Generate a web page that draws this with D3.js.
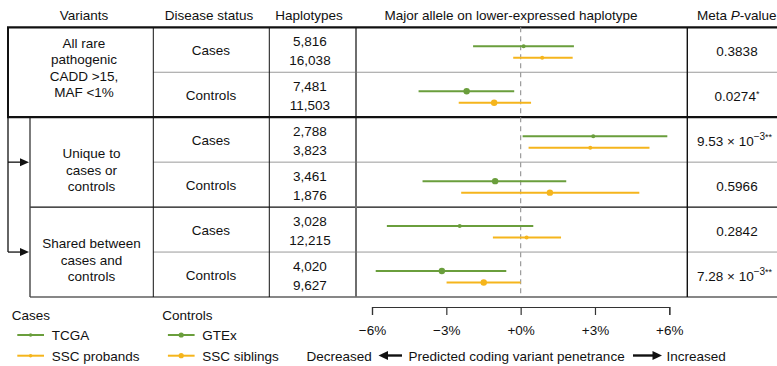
<!DOCTYPE html>
<html>
<head>
<meta charset="utf-8">
<script src="https://cdn.jsdelivr.net/npm/d3@7"></script>
<style>
  html, body { margin: 0; padding: 0; background: #fff; }
  svg { display: block; }
  text { font-family: "Liberation Sans", Arial, Helvetica, sans-serif; font-size: 13.5px; fill: #111; }
</style>
</head>
<body>
<svg id="chart" width="777" height="366"></svg>
<script>
// ---------- data ----------
const rowIds = ["allCases", "allControls", "uniqCases", "uniqControls", "sharedCases", "sharedControls"];
const diseaseStatus = ["Cases", "Controls", "Cases", "Controls", "Cases", "Controls"];
const haplotypesA = ["5,816", "7,481", "2,788", "3,461", "3,028", "4,020"];
const haplotypesB = ["16,038", "11,503", "3,823", "1,876", "12,215", "9,627"];
const variantGroups = [
  ["All rare", "pathogenic", "CADD >15,", "MAF <1%"],
  ["Unique to", "cases or", "controls"],
  ["Shared between", "cases and", "controls"]
];
// green series: TCGA (cases) / GTEx (controls)
const greenEst = [0.12, -2.18, 2.93, -1.03, -2.46, -3.18];
const greenLo  = [-1.92, -4.12, 0.08, -3.96, -5.40, -5.85];
const greenHi  = [2.15, -0.26, 5.92, 1.84, 0.51, -0.58];
// yellow series: SSC probands (cases) / SSC siblings (controls)
const yellowEst = [0.87, -1.07, 2.81, 1.18, 0.24, -1.49];
const yellowLo  = [-0.30, -2.50, 0.32, -2.40, -1.12, -2.99];
const yellowHi  = [2.10, 0.42, 5.20, 4.79, 1.63, 0.00];
const pMain = ["0.3838", "0.0274", "9.53 × 10", "0.5966", "0.2842", "7.28 × 10"];
const pExp  = ["", "", "−3", "", "", "−3"];
const pStars = ["", "*", "**", "", "", "**"];
const tickValues = [-6, -3, 0, 3, 6];
const tickLabels = ["−6%", "−3%", "+0%", "+3%", "+6%"];
const headers = ["Variants", "Disease status", "Haplotypes", "Major allele on lower-expressed haplotype", "Meta "];

const GREEN = "#6a9e3c", YELLOW = "#f5b51c";

// ---------- layout ----------
const svg = d3.select("#chart");
const W = 777;
const tableTop = 27.3, tableBottom = 297;
const colX = { left: 8, inner: 30, c1: 153.3, c2: 269.3, c3: 356, c4: 687.3 };

const y = d3.scaleBand().domain(rowIds).range([tableTop, tableBottom]);
const ySub = d3.scaleOrdinal().domain(["g", "y"]).range([-3.5, 8]);
const x = d3.scaleLinear().domain([-6, 6]).range([372, 669.3]);
const mid = id => y(id) + y.bandwidth() / 2;

// ---------- table lines ----------
const g = svg.append("g");
[1, 3, 5].forEach(i => {
  g.append("line").attr("x1", colX.c1).attr("x2", W).attr("y1", y(rowIds[i])).attr("y2", y(rowIds[i]))
    .attr("stroke", "#9a9a9a").attr("stroke-width", 1);
});
g.append("line").attr("x1", colX.inner).attr("x2", W).attr("y1", y(rowIds[4])).attr("y2", y(rowIds[4]))
  .attr("stroke", "#111").attr("stroke-width", 1.2);
g.append("line").attr("x1", colX.inner).attr("x2", W).attr("y1", tableBottom).attr("y2", tableBottom)
  .attr("stroke", "#111").attr("stroke-width", 1.2);
[colX.c1, colX.c2].forEach(cx => {
  g.append("line").attr("x1", cx).attr("x2", cx).attr("y1", tableTop).attr("y2", tableBottom)
    .attr("stroke", "#111").attr("stroke-width", 1);
});
g.append("line").attr("x1", colX.c3).attr("x2", colX.c3).attr("y1", tableTop).attr("y2", tableBottom)
  .attr("stroke", "#6e6e6e").attr("stroke-width", 2);
g.append("line").attr("x1", colX.c4).attr("x2", colX.c4).attr("y1", tableTop).attr("y2", tableBottom)
  .attr("stroke", "#111").attr("stroke-width", 1.4);
g.append("line").attr("x1", colX.inner).attr("x2", colX.inner).attr("y1", y(rowIds[2])).attr("y2", tableBottom)
  .attr("stroke", "#444").attr("stroke-width", 1.4);
g.append("line").attr("x1", colX.left).attr("x2", colX.left).attr("y1", tableTop).attr("y2", y(rowIds[2]))
  .attr("stroke", "#111").attr("stroke-width", 2);
const arrowY = [y(rowIds[3]), y(rowIds[5])];
g.append("line").attr("x1", colX.left).attr("x2", colX.left).attr("y1", y(rowIds[2])).attr("y2", arrowY[1])
  .attr("stroke", "#111").attr("stroke-width", 1.3);
arrowY.forEach(ay => {
  g.append("line").attr("x1", colX.left).attr("x2", colX.inner - 8).attr("y1", ay).attr("y2", ay)
    .attr("stroke", "#111").attr("stroke-width", 1.3);
  g.append("path").attr("d", `M${colX.inner - 10},${ay - 4}L${colX.inner - 1},${ay}L${colX.inner - 10},${ay + 4}Z`)
    .attr("fill", "#111");
});
[tableTop, y(rowIds[2])].forEach(ly => {
  g.append("line").attr("x1", colX.left - 1).attr("x2", W).attr("y1", ly).attr("y2", ly)
    .attr("stroke", "#111").attr("stroke-width", 2.2);
});

g.append("line").attr("x1", x(0)).attr("x2", x(0)).attr("y1", tableTop).attr("y2", tableBottom)
  .attr("stroke", "#9a9a9a").attr("stroke-width", 1.2).attr("stroke-dasharray", "5,4");

// ---------- headers ----------
const headerX = [84, 209, 309, 511];
headers.slice(0, 4).forEach((h, i) => {
  svg.append("text").attr("x", headerX[i]).attr("y", 19.5).attr("text-anchor", "middle").text(h);
});
const mp = svg.append("text").attr("x", 697).attr("y", 19.5);
mp.append("tspan").text(headers[4]);
mp.append("tspan").attr("font-style", "italic").text("P");
mp.append("tspan").text("-value");

// ---------- variant group labels ----------
const groupSpec = [
  { cx: 84, y0: 47.5 },
  { cx: 91.5, y0: 158 },
  { cx: 91.5, y0: 248 }
];
variantGroups.forEach((lines, gi) => {
  lines.forEach((t, li) => {
    svg.append("text").attr("x", groupSpec[gi].cx).attr("y", groupSpec[gi].y0 + li * 16.5)
      .attr("text-anchor", "middle").text(t);
  });
});

// ---------- disease status & haplotypes ----------
rowIds.forEach((id, i) => {
  svg.append("text").attr("x", 211).attr("y", mid(id) + 5.5).attr("text-anchor", "middle").text(diseaseStatus[i]);
  svg.append("text").attr("x", 310).attr("y", mid(id) - 3.5).attr("text-anchor", "middle").text(haplotypesA[i]);
  svg.append("text").attr("x", 310).attr("y", mid(id) + 15).attr("text-anchor", "middle").text(haplotypesB[i]);
});

// ---------- p-values ----------
rowIds.forEach((id, i) => {
  const sci = pExp[i] !== "";
  const t = svg.append("text").attr("y", mid(id) + 6.5)
    .attr("x", sci ? 697 : 737).attr("text-anchor", sci ? "start" : "middle");
  t.append("tspan").text(pMain[i]);
  if (sci) t.append("tspan").attr("dy", -6).attr("font-size", "10px").text(pExp[i]);
  if (pStars[i]) t.append("tspan").attr("dy", sci ? 0 : -4).attr("font-size", "9px").text(pStars[i]);
});

// ---------- forest marks ----------
const series = [
  { key: "g", color: GREEN, est: greenEst, lo: greenLo, hi: greenHi },
  { key: "y", color: YELLOW, est: yellowEst, lo: yellowLo, hi: yellowHi }
];
const marks = svg.append("g");
series.forEach(s => {
  rowIds.forEach((id, i) => {
    const yy = mid(id) + ySub(s.key);
    marks.append("line").attr("x1", x(s.lo[i])).attr("x2", x(s.hi[i])).attr("y1", yy).attr("y2", yy)
      .attr("stroke", s.color).attr("stroke-width", 2);
    marks.append("circle").attr("cx", x(s.est[i])).attr("cy", yy)
      .attr("r", diseaseStatus[i] === "Cases" ? 2 : 3.2).attr("fill", s.color);
  });
});

// ---------- axis ----------
const axis = d3.axisBottom(x).tickValues(tickValues).tickFormat((d, i) => tickLabels[i])
  .tickSize(8).tickSizeOuter(8).tickPadding(10);
const ax = svg.append("g").attr("transform", "translate(0,307)").call(axis);
ax.selectAll("path, line").attr("stroke", "#333").attr("stroke-width", 1.2);
ax.selectAll("text").attr("font-family", "Liberation Sans, Arial, sans-serif").attr("font-size", "13.5px").attr("fill", "#111");

// ---------- axis title with arrows ----------
const by = 360.5, ayy = 355.5;
svg.append("text").attr("x", 306.5).attr("y", by).text("Decreased");
svg.append("text").attr("x", 408.5).attr("y", by).text("Predicted coding variant penetrance");
svg.append("text").attr("x", 666.5).attr("y", by).text("Increased");
svg.append("line").attr("x1", 386).attr("x2", 402).attr("y1", ayy).attr("y2", ayy).attr("stroke", "#111").attr("stroke-width", 2.4);
svg.append("path").attr("d", `M378.5,${ayy}L388,${ayy - 4.5}L388,${ayy + 4.5}Z`).attr("fill", "#111");
svg.append("line").attr("x1", 633).attr("x2", 654).attr("y1", ayy).attr("y2", ayy).attr("stroke", "#111").attr("stroke-width", 2.4);
svg.append("path").attr("d", `M662,${ayy}L652.5,${ayy - 4.5}L652.5,${ayy + 4.5}Z`).attr("fill", "#111");

// ---------- legend ----------
const legendTitles = ["Cases", "Controls"];
const legendNames = [["TCGA", "SSC probands"], ["GTEx", "SSC siblings"]];
const legendX = [11.7, 162.3];
const legendColors = [GREEN, YELLOW];
const legendRowY = [335, 355.7];
legendTitles.forEach((t, c) => {
  svg.append("text").attr("x", legendX[c]).attr("y", 320).text(t);
  legendNames[c].forEach((n, r) => {
    const lx = legendX[c] + 5.6, ly = legendRowY[r];
    svg.append("line").attr("x1", lx).attr("x2", lx + 26.7).attr("y1", ly).attr("y2", ly)
      .attr("stroke", legendColors[r]).attr("stroke-width", 2);
    svg.append("circle").attr("cx", lx + 13.3).attr("cy", ly).attr("r", c === 0 ? 1.8 : 2.6).attr("fill", legendColors[r]);
    svg.append("text").attr("x", legendX[c] + 40).attr("y", ly + 5).text(n);
  });
});
</script>
</body>
</html>
